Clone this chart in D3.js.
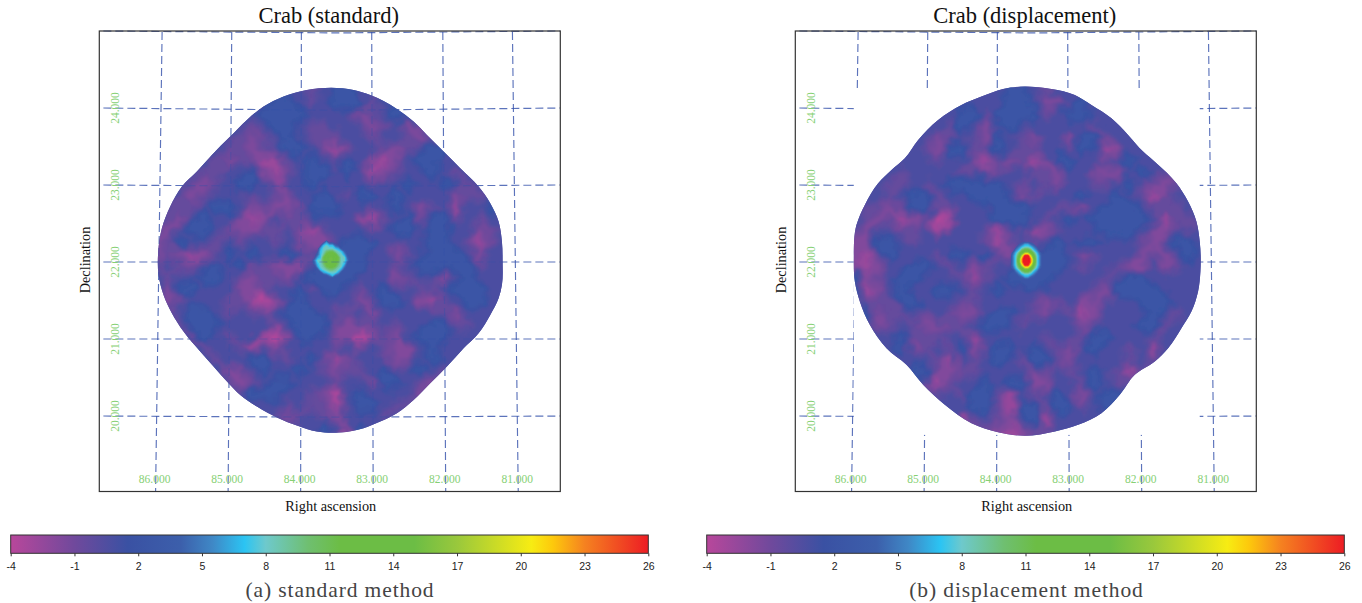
<!DOCTYPE html>
<html>
<head>
<meta charset="utf-8">
<script src="https://cdnjs.cloudflare.com/ajax/libs/d3/7.8.5/d3.min.js"></script>
<style>
body { margin: 0; background: #fff; }
text { font-family: "Liberation Serif", serif; }
</style>
</head>
<body>
<div id="chart"></div>
<script>
// colour table
var colorValues = [-4, -1, 1.5, 4, 5.5, 7, 8, 10, 11.5, 15, 17, 20.5, 21.5, 23, 26];
var colorStops = ["#b8479b", "#70499c", "#3a51a3", "#3c5fab", "#3f88c6", "#2bc4f3", "#6ec9cc", "#6fbf70", "#6cbd45", "#6cbd45", "#99c83c", "#f7ec13", "#fdc90c", "#f58220", "#ed1c24"];
var cbarTicks = [-4, -1, 2, 5, 8, 11, 14, 17, 20, 23, 26];

var raTicks = [86, 85, 84, 83, 82, 81];
var raTop = [85.91, 84.95, 83.99, 83.02, 82.04, 81.08];
var decTicks = [24, 23, 22, 21, 20];
var decLines = [25, 24, 23, 22, 21, 20];
var decMid = [24.975, 23.97, 22.98, 22, 21, 19.985];

// the maps below are read in coarse shades, this is what each shade means
var shades = [-3, -2, -1, 0, 1, 2];
var shadeValues = [-3.9, -2.7, -1.6, -0.5, 0.8, 2.3];

// sky map, left panel (rows north to south, cols east to west)
var mapStandard = [
[1,1,1,1,1,1,1,1,1,1,1,1,1,0,1,2,2,1,1,2,1,1,1,1,1,1,1,1,1,1],
[1,1,1,1,1,1,1,1,1,1,2,2,1,0,1,2,2,2,0,1,2,1,1,1,1,1,1,1,1,1],
[1,1,1,1,1,1,1,1,1,2,2,2,2,1,1,1,1,-1,0,1,2,2,1,1,1,1,1,1,1,1],
[1,1,1,1,1,1,1,1,0,1,2,2,1,0,0,1,1,0,-1,0,1,-1,0,1,1,1,1,1,1,1],
[1,1,1,1,1,1,1,0,-1,0,1,2,1,0,0,0,1,1,0,1,1,0,-1,0,1,1,1,1,1,1],
[1,1,1,1,1,1,0,0,-1,0,1,2,2,1,-1,-2,0,1,1,0,-1,0,1,2,2,1,1,1,1,1],
[1,1,1,1,1,0,-1,0,0,-2,-2,0,1,2,1,0,2,1,-1,-2,-1,1,2,2,1,1,1,1,1,1],
[1,1,1,1,0,0,1,1,2,-1,-2,0,1,2,2,1,2,0,-2,-1,0,1,1,2,1,0,1,1,1,1],
[1,1,1,0,-1,0,1,2,2,1,-1,1,1,2,1,1,1,1,0,1,1,2,1,1,2,1,0,1,1,1],
[1,1,0,-1,0,1,1,1,0,1,0,-1,1,1,2,1,0,2,2,1,2,1,1,1,1,-1,0,0,1,1],
[1,0,0,0,1,2,2,1,-1,0,-1,-1,0,2,2,2,1,1,0,1,2,1,-1,0,1,-2,1,1,2,1],
[1,0,-1,1,2,1,1,-1,-2,-1,1,0,0,1,1,1,1,-1,-2,0,1,2,0,2,2,0,1,0,1,1],
[0,-1,1,2,2,1,0,-1,-1,0,0,1,-1,-2,0,1,1,1,0,1,2,2,1,2,2,1,1,-1,0,1],
[-1,0,2,1,1,0,1,0,1,1,0,1,-1,-1,-1,1,2,2,2,1,0,1,1,2,2,1,0,-2,0,1],
[-1,0,-1,-2,-1,0,2,1,2,1,1,2,1,0,1,2,2,2,1,1,-1,0,1,2,2,2,1,-1,1,1],
[0,1,0,-1,1,2,1,2,0,0,-1,-1,-1,1,2,2,2,2,1,1,0,1,2,2,2,2,2,0,1,1],
[1,0,1,1,2,2,1,0,-1,0,0,-1,1,2,2,2,2,1,1,1,-1,0,1,1,-1,1,2,1,1,1],
[1,-1,2,2,1,1,1,-1,-1,0,1,1,2,0,2,2,1,0,1,2,0,1,0,0,1,2,2,2,1,1],
[0,-1,0,1,1,1,0,0,-2,-3,-1,1,2,1,1,1,1,-1,0,2,2,1,-1,-2,0,1,2,2,1,1],
[1,0,1,2,2,1,0,1,0,-1,1,2,2,2,1,0,0,1,-1,1,1,1,1,0,0,-1,1,1,1,1],
[1,1,0,2,2,2,1,1,1,1,0,1,2,2,2,0,-1,0,0,1,0,1,1,2,2,0,0,1,1,1],
[1,1,1,0,2,1,0,1,1,-2,-3,-1,2,2,1,-1,-1,-3,-1,0,-1,1,2,2,2,1,1,1,1,1],
[1,1,1,1,0,1,1,0,-2,0,-1,1,1,1,1,0,1,-1,1,0,-1,-1,1,2,1,1,1,1,1,1],
[1,1,1,1,1,0,1,1,2,2,1,0,1,2,0,-2,0,1,1,0,-1,-1,1,2,1,1,1,1,1,1],
[1,1,1,1,1,1,-1,-1,1,2,1,1,2,1,0,-1,0,0,1,2,0,1,2,1,0,1,1,1,1,1],
[1,1,1,1,1,1,0,-1,0,1,2,2,1,1,1,0,1,1,-1,2,2,1,0,-1,1,1,1,1,1,1],
[1,1,1,1,1,1,1,0,2,2,2,1,1,0,-1,-3,1,2,1,1,1,1,-1,0,1,1,1,1,1,1],
[1,1,1,1,1,1,1,1,1,1,1,0,1,0,0,-2,1,2,2,1,0,0,1,1,1,1,1,1,1,1],
[1,1,1,1,1,1,1,1,1,1,0,-1,0,1,0,-1,1,1,1,0,1,1,1,1,1,1,1,1,1,1],
[1,1,1,1,1,1,1,1,1,1,1,1,1,1,2,1,-1,2,1,1,1,1,1,1,1,1,1,1,1,1]
];

// sky map, right panel
var mapDisplacement = [
[1,1,1,1,1,1,1,1,1,1,1,1,1,2,2,1,0,1,1,1,1,1,1,1,1,1,1,1,1,1],
[1,1,1,1,1,1,1,1,1,1,1,1,1,2,2,1,-1,-1,1,2,1,1,1,1,1,1,1,1,1,1],
[1,1,1,1,1,1,1,1,1,2,2,0,2,2,2,2,0,1,2,2,1,1,1,1,1,1,1,1,1,1],
[1,1,1,1,1,1,1,1,0,2,1,-1,1,2,1,1,1,1,1,1,0,1,1,1,1,1,1,1,1,1],
[1,1,1,1,1,1,1,-1,0,1,0,-1,2,1,0,-1,1,1,-1,2,2,0,1,1,1,1,1,1,1,1],
[1,1,1,1,1,1,0,-1,2,2,0,0,2,1,0,0,1,1,0,2,1,-2,-1,1,1,1,1,1,1,1],
[1,1,1,1,1,1,1,0,1,1,-1,-2,0,-1,0,-2,-1,2,2,1,1,0,1,2,1,1,1,1,1,1],
[1,1,1,1,0,1,1,1,1,0,1,-1,0,1,1,0,0,-1,1,1,-1,-1,-1,1,2,1,0,1,1,1],
[1,1,1,0,0,1,0,1,2,2,2,2,2,1,0,1,0,-1,1,1,0,0,1,2,0,-1,-1,0,1,1],
[1,1,1,0,1,2,2,0,1,1,2,2,2,1,-1,0,1,1,1,2,1,1,2,1,0,-2,0,1,1,1],
[1,0,0,-1,0,2,2,0,-1,1,1,1,2,2,2,1,1,0,0,-1,1,2,2,2,1,0,0,0,1,1],
[1,0,-1,0,-2,-1,0,-3,-2,1,1,1,2,2,2,1,0,1,2,1,2,2,2,2,2,1,-2,0,0,1],
[0,-1,1,1,0,0,1,-2,1,1,1,0,-2,0,1,-2,-1,0,1,1,1,2,2,2,1,-1,-1,1,0,1],
[-1,-1,2,2,1,0,1,1,1,1,1,0,-2,0,1,0,1,2,1,2,2,1,1,1,0,-1,1,2,2,1],
[-1,-2,0,2,1,1,1,0,2,2,1,2,0,-1,1,2,2,2,1,-1,0,1,1,1,-1,0,-1,1,2,1],
[-1,-2,-1,1,1,2,2,1,0,1,-1,0,1,1,2,2,2,2,1,0,1,1,0,-1,-1,1,-1,0,1,1],
[2,-1,0,1,2,2,1,1,1,0,-2,0,1,2,2,2,2,1,1,1,1,0,1,2,2,1,1,1,1,1],
[2,-2,-1,1,2,1,1,2,2,1,0,1,2,1,1,2,1,1,1,1,0,-1,2,2,2,2,1,1,1,1],
[1,0,0,0,2,2,1,1,1,0,0,1,1,1,1,0,-1,0,1,-1,-1,0,1,1,2,2,2,1,1,1],
[1,2,-1,0,0,1,0,1,0,-1,-1,1,2,2,1,0,-1,1,0,-2,-1,1,1,1,1,2,1,0,1,1],
[1,1,-1,0,1,0,-1,-1,0,0,1,2,2,1,0,1,1,1,1,-1,0,1,1,1,2,2,0,1,1,1],
[1,1,1,1,2,0,0,0,1,1,-2,1,1,1,1,1,0,1,1,0,2,2,1,1,1,0,1,1,1,1],
[1,1,1,1,2,-1,0,1,0,2,-1,0,2,2,1,2,1,0,-1,1,2,1,1,0,1,-2,1,1,1,1],
[1,1,1,1,1,1,1,0,-2,1,0,1,2,1,0,2,2,0,-1,1,1,1,1,0,1,0,1,1,1,1],
[1,1,1,1,1,2,2,-1,-1,0,0,1,1,1,1,-1,0,1,0,1,2,1,0,-2,0,1,1,1,1,1],
[1,1,1,1,1,1,-1,-2,0,1,1,2,1,2,2,-1,-1,1,1,0,2,1,0,0,1,1,1,1,1,1],
[1,1,1,1,1,1,1,0,1,0,2,2,0,-2,1,0,1,2,0,-1,1,2,2,1,1,1,1,1,1,1],
[1,1,1,1,1,1,1,1,1,1,2,2,0,-2,2,2,0,2,2,0,1,2,1,1,1,1,1,1,1,1],
[1,1,1,1,1,1,1,1,1,-2,0,1,0,-1,1,2,-2,1,1,1,1,1,1,1,1,1,1,1,1,1],
[1,1,1,1,1,1,1,1,1,1,-1,0,-1,-2,-1,0,0,1,1,1,1,1,1,1,1,1,1,1,1,1]
];

// fine cells round the Crab itself
var crabStandard = [
[2,2,2,2,2,2,2,2,2,2,2,2,2,2],
[2,2,2,2,3,6,3,3,2,2,2,2,2,2],
[2,2,2,3,7,8,7,7,4,3,2,2,2,2],
[2,2,2,6,8,8,8,8,7,6,3,2,2,2],
[2,2,3,7,8,10,11,11,9,8,7,4,2,2],
[2,2,4,7,9,12,13,13,12,9,8,6,3,2],
[2,3,6,7,11,13,15,15,13,11,8,8,4,2],
[2,5,8,8,11,13,15,15,13,11,8,8,5,2],
[2,4,7,8,10,12,13,13,12,10,8,7,3,2],
[2,2,6,8,9,11,12,12,11,9,8,5,2,2],
[2,2,3,7,8,9,10,10,9,8,6,3,2,2],
[2,2,2,3,6,7,8,8,8,6,3,2,2,2],
[2,2,2,2,2,3,5,7,4,3,2,2,2,2],
[2,2,2,2,2,2,2,2,2,2,2,2,2,2]
];
var crabDisplacement = [
[2,2,2,2,2,2,2,2,2,2,2,2,2,2],
[2,2,2,2,3,4,6,6,4,3,2,2,2,2],
[2,2,2,3,5,7,8,8,7,5,3,2,2,2],
[2,2,2,5,7,10,12,12,10,7,5,2,2,2],
[2,2,4,7,10,14,18,18,14,10,7,4,2,2],
[2,2,5,8,12,19,27,27,19,12,8,5,2,2],
[2,2,5,8,14,23,29,29,23,14,8,5,2,2],
[2,2,5,8,14,23,29,29,23,14,8,5,2,2],
[2,2,5,8,12,19,26,26,19,12,8,5,2,2],
[2,2,4,7,10,14,18,18,14,10,7,4,2,2],
[2,2,2,5,7,10,12,12,10,7,5,2,2,2],
[2,2,2,3,5,7,8,8,7,5,3,2,2,2],
[2,2,2,2,3,4,6,6,4,3,2,2,2,2],
[2,2,2,2,2,2,2,2,2,2,2,2,2,2]
];

// edge of the exposure, in the map's own reading units (1080 wide)
var edgeStandard = [[470,15],[610,15],[660,30],[700,48],[740,72],[790,110],[830,150],[880,200],[930,250],[985,305],[1020,355],[1045,410],[1055,470],[1057,530],[1055,600],[1045,640],[1020,690],[985,745],[940,790],[890,845],[840,895],[790,945],[740,985],[690,1010],[640,1030],[570,1043],[500,1040],[440,1022],[385,1000],[320,965],[270,930],[235,895],[190,845],[150,800],[100,740],[65,685],[40,630],[25,570],[24,500],[35,430],[60,365],[95,305],[140,260],[185,210],[240,155],[290,105],[340,65],[400,35]];
var edgeDisplacement = [[465,12],[610,12],[680,30],[730,60],[790,100],[840,150],[885,200],[925,235],[985,295],[1020,350],[1045,410],[1055,470],[1057,560],[1050,620],[1030,680],[1000,730],[960,790],[920,830],[860,870],[815,930],[760,985],[690,1020],[620,1040],[530,1053],[450,1042],[370,1015],[290,960],[225,900],[175,840],[115,790],[65,720],[35,650],[20,590],[17,520],[25,420],[50,360],[90,295],[130,255],[170,220],[210,165],[270,105],[340,60],[400,35]];

var panels = [
    {id: "std", title: "Crab (standard)", caption: "(a) standard method", dx: 0, map: mapStandard, crab: crabStandard, edge: edgeStandard,
     mapRa: [86.074, 81.11], mapDec: [24.30, 19.755], crabRa: [83.871, 83.292], crabDec: [22.312, 21.766], hideBox: null},
    {id: "dsp", title: "Crab (displacement)", caption: "(b) displacement method", dx: 696, map: mapDisplacement, crab: crabDisplacement, edge: edgeDisplacement,
     mapRa: [86.047, 81.085], mapDec: [24.30, 19.73], crabRa: [83.878, 83.299], crabDec: [22.292, 21.747], hideBox: {ra: [85.97, 81.2], dec: [24.256, 19.755]}}
];

var color = d3.scaleLinear().domain(colorValues).range(colorStops).clamp(true);
var shadeToValue = d3.scaleLinear().domain(shades).range(shadeValues);

var svg = d3.select("#chart").append("svg")
    .attr("width", 1362)
    .attr("height", 603)
    .style("display", "block");

var defs = svg.append("defs");
// roughens the contour edges a little, the real map is mottled at pixel level
var soft = defs.append("filter").attr("id", "soft")
    .attr("x", "-5%").attr("y", "-5%").attr("width", "110%").attr("height", "110%");
soft.append("feTurbulence")
    .attr("type", "fractalNoise")
    .attr("baseFrequency", 0.09)
    .attr("numOctaves", 2)
    .attr("seed", 4)
    .attr("result", "rough");
soft.append("feDisplacementMap")
    .attr("in", "SourceGraphic")
    .attr("in2", "rough")
    .attr("scale", 14)
    .attr("xChannelSelector", "R")
    .attr("yChannelSelector", "G")
    .attr("result", "moved");
soft.append("feGaussianBlur").attr("in", "moved").attr("stdDeviation", 1);
defs.append("filter").attr("id", "softer").append("feGaussianBlur").attr("stdDeviation", 0.7);

var gradient = defs.append("linearGradient").attr("id", "cbarFill");
colorValues.forEach(function (v, i) {
    gradient.append("stop")
        .attr("offset", (v + 4) / 30)
        .attr("stop-color", colorStops[i]);
});

// stacked filled contours of a grid, through scales
function drawGrid(g, grid, xr, yr, thresholds) {
    var rows = grid.length, cols = grid[0].length;
    var sx = d3.scaleLinear().domain([0, cols]).range(xr);
    var sy = d3.scaleLinear().domain([0, rows]).range(yr);
    var path = d3.geoPath(d3.geoTransform({
        point: function (a, b) { this.stream.point(sx(a), sy(b)); }
    }));
    var step = thresholds[1] - thresholds[0];
    var bands = d3.contours().size([cols, rows]).thresholds(thresholds)(d3.merge(grid));
    g.selectAll("path").data(bands).join("path")
        .attr("d", path)
        .attr("fill", function (d) { return color(d.value + step / 2); });
}

panels.forEach(function (p) {
    var x = d3.scaleLinear().domain([86.776, 80.42]).range([99.3 + p.dx, 560.3 + p.dx]);
    var y = d3.scaleLinear().domain([25, 19.02]).range([31, 491.5]);
    var g = svg.append("g").attr("id", p.id);

    var line = d3.line();
    var gridStyle = function (s) {
        s.attr("fill", "none")
            .attr("stroke", "#3350aa")
            .attr("stroke-width", 1.15)
            .attr("stroke-opacity", 0.8)
            .attr("stroke-dasharray", "8,4");
    };
    var drawLines = function (parent) {
        parent.selectAll(".ra").data(raTicks).join("path")
            .attr("class", "ra")
            .attr("d", function (d, i) {
                return line([[x(raTop[i]), y(25) + 1], [x(d), y.range()[1]]]);
            })
            .call(gridStyle);
        parent.selectAll(".dec").data(decLines).join("path")
            .attr("class", "dec")
            .attr("d", function (d, i) {
                return line([[x(86.72), y(d)], [x(83.5), y(decMid[i])], [x(80.42), y(d)]]);
            })
            .call(gridStyle);
    };

    drawLines(g.append("g"));

    // the second map was pasted with an opaque background over its grid
    if (p.hideBox) {
        g.append("rect")
            .attr("x", x(p.hideBox.ra[0]))
            .attr("y", y(p.hideBox.dec[0]))
            .attr("width", x(p.hideBox.ra[1]) - x(p.hideBox.ra[0]))
            .attr("height", y(p.hideBox.dec[1]) - y(p.hideBox.dec[0]))
            .attr("fill", "#fff");
    }

    var xr = [x(p.mapRa[0]), x(p.mapRa[1])];
    var yr = [y(p.mapDec[0]), y(p.mapDec[1])];
    var ex = d3.scaleLinear().domain([0, 1080]).range(xr);
    var ey = d3.scaleLinear().domain([0, p.id == "std" ? 1050 : 1056]).range(yr);
    defs.append("clipPath").attr("id", "edge-" + p.id).append("path")
        .attr("d", d3.line().curve(d3.curveCatmullRomClosed.alpha(1))(p.edge.map(function (e) { return [ex(e[0]), ey(e[1])]; })));

    var map = g.append("g").attr("clip-path", "url(#edge-" + p.id + ")");
    // backing so the filter's soft border never lets white through
    map.append("rect")
        .attr("x", xr[0])
        .attr("y", yr[0])
        .attr("width", xr[1] - xr[0])
        .attr("height", yr[1] - yr[0])
        .attr("fill", color(shadeValues[4]));
    var back = map.append("g").attr("filter", "url(#soft)");
    var values = p.map.map(function (row) { return row.map(shadeToValue); });
    drawGrid(back, values, xr, yr, d3.range(-4, 3, 0.2));
    var crab = map.append("g").attr("filter", "url(#softer)");
    drawGrid(crab, p.crab, [x(p.crabRa[0]), x(p.crabRa[1])], [y(p.crabDec[0]), y(p.crabDec[1])], d3.range(3, 29.5, 0.5));

    // grid shows through the first map only
    if (!p.hideBox) {
        drawLines(g.append("g").attr("clip-path", "url(#edge-" + p.id + ")").attr("opacity", 0.45));
    }

    // frame
    g.append("rect")
        .attr("x", x.range()[0])
        .attr("y", y.range()[0])
        .attr("width", x.range()[1] - x.range()[0])
        .attr("height", y.range()[1] - y.range()[0])
        .attr("fill", "none")
        .attr("stroke", "#333")
        .attr("stroke-width", 1.2);

    // tick labels sit inside the frame
    g.selectAll(".raLabel").data(raTicks).join("text")
        .attr("class", "raLabel")
        .attr("x", function (d) { return x(d) - 1; })
        .attr("y", 483)
        .attr("text-anchor", "middle")
        .attr("font-size", 11.5)
        .attr("fill", "#86d074")
        .text(d3.format(".3f"));
    g.selectAll(".decLabel").data(decTicks).join("text")
        .attr("class", "decLabel")
        .attr("transform", function (d) {
            return "translate(" + (x.range()[0] + 20) + "," + y(d) + ") rotate(-90)";
        })
        .attr("text-anchor", "middle")
        .attr("font-size", 11.5)
        .attr("fill", "#86d074")
        .text(d3.format(".3f"));

    var cx = (x.range()[0] + x.range()[1]) / 2;
    g.append("text")
        .attr("x", cx - 1)
        .attr("y", 23)
        .attr("text-anchor", "middle")
        .attr("font-size", 22.5)
        .attr("fill", "#111")
        .text(p.title);
    g.append("text")
        .attr("x", cx + 1)
        .attr("y", 511)
        .attr("text-anchor", "middle")
        .attr("font-size", 14.3)
        .attr("fill", "#111")
        .text("Right ascension");
    g.append("text")
        .attr("transform", "translate(" + (x.range()[0] - 9) + ",260) rotate(-90)")
        .attr("text-anchor", "middle")
        .attr("font-size", 14.3)
        .attr("fill", "#111")
        .text("Declination");

    // colour bar
    var cb = d3.scaleLinear().domain([-4, 26]).range([10.7 + p.dx, 648.3 + p.dx]);
    var bar = g.append("g").attr("class", "cbar");
    bar.append("rect")
        .attr("x", cb(-4))
        .attr("y", 535)
        .attr("width", cb(26) - cb(-4))
        .attr("height", 18.3)
        .attr("fill", "url(#cbarFill)")
        .attr("stroke", "#333")
        .attr("stroke-width", 1);
    bar.append("g")
        .attr("transform", "translate(0,553.3)")
        .call(d3.axisBottom(cb).tickValues(cbarTicks).tickSize(3).tickPadding(6).tickFormat(String))
        .call(function (a) {
            a.select(".domain").remove();
            a.selectAll("line").attr("stroke", "#333");
            a.selectAll("text")
                .style("font-family", "'Liberation Sans', sans-serif")
                .style("font-size", "10.5px")
                .attr("fill", "#222");
        });

    g.append("text")
        .attr("x", p.dx == 0 ? 340 : 1026.5)
        .attr("y", 597)
        .attr("text-anchor", "middle")
        .attr("font-size", 21.5)
        .attr("letter-spacing", 0.9)
        .attr("fill", "#444")
        .text(p.caption);
});
</script>
</body>
</html>
